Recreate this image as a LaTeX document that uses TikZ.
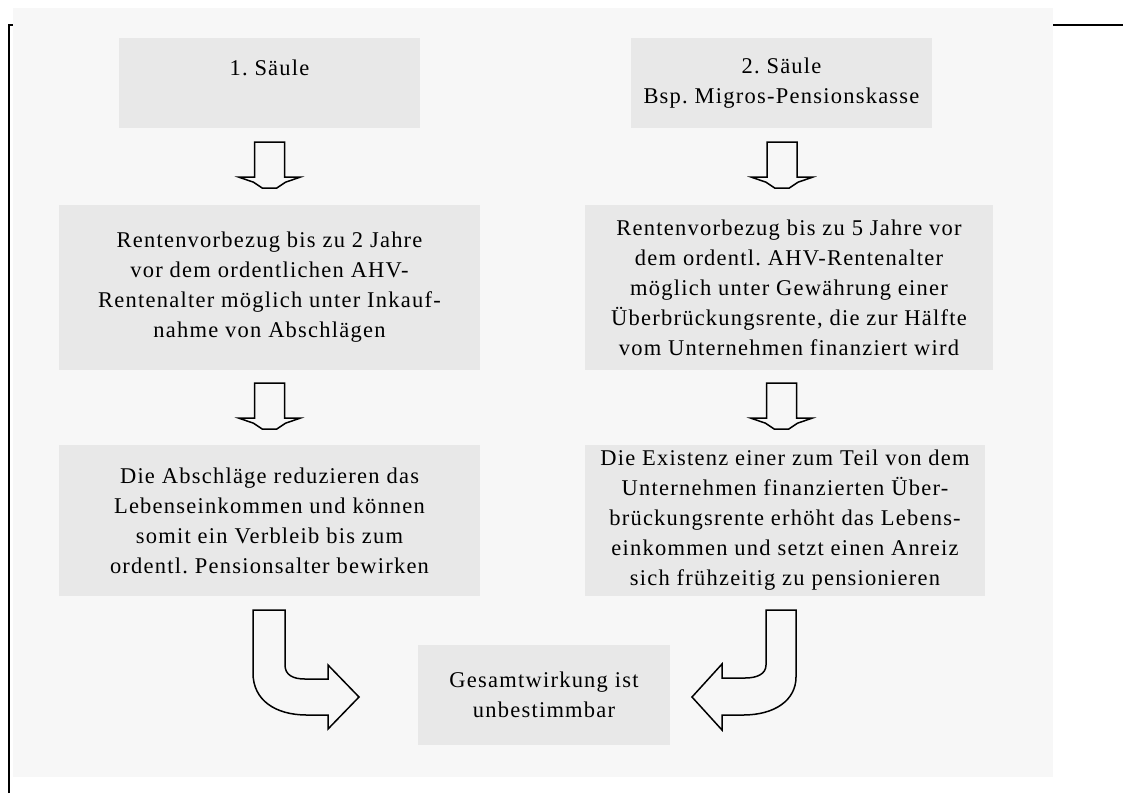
\documentclass[tikz,border=0pt]{standalone}
\usepackage{fontspec}
\setmainfont{Liberation Serif}[LetterSpace=5.5]
\usetikzlibrary{calc}
\definecolor{panelgray}{HTML}{F7F7F7}
\definecolor{boxgray}{HTML}{E8E8E8}
\tikzset{
  box/.style={fill=boxgray, inner sep=0pt, align=center, font=\fontsize{22.5}{30}\selectfont\frenchspacing},
  blockarrow/.style={draw=black, line width=1.5pt, fill=panelgray, line join=miter},
  dnarr/.pic={\path[blockarrow] (-15,0) -- (15,0) -- (15,35) -- (30.5,35) -- (16,40) -- (7,46) -- (-7,46) -- (-16,40) -- (-30.5,35) -- (-15,35) -- cycle;}
}
\begin{document}
\begin{tikzpicture}[x=1pt,y=-1pt]
\useasboundingbox (0,0) rectangle (1123,793);
\fill[panelgray] (13,8) rectangle (1053,777);
\draw[line width=2pt] (9,793) -- (9,25) -- (13,25);
\draw[line width=2pt] (1053,25) -- (1123,25);

\node[box, minimum width=301pt, minimum height=90pt] (a1) at (269.5,83) {1. Säule\\ \mbox{}};
\node[box, minimum width=301pt, minimum height=90pt] (b1) at (781.5,83) {2. Säule\\ Bsp. Migros-Pensionskasse};
\node[box, minimum width=421pt, minimum height=165pt] (a2) at (269.5,287.5) {Rentenvorbezug bis zu 2 Jahre\\ vor dem ordentlichen AHV-\\ Rentenalter möglich unter Inkauf-\\ nahme von Abschlägen};
\node[box, minimum width=408pt, minimum height=165pt] (b2) at (789,287.5) {Rentenvorbezug bis zu 5 Jahre vor\\ dem ordentl. AHV-Rentenalter\\ möglich unter Gewährung einer\\ Überbrückungsrente, die zur Hälfte\\ vom Unternehmen finanziert wird};
\node[box, minimum width=421pt, minimum height=151pt] (a3) at (269.5,520.5) {Die Abschläge reduzieren das\\ Lebenseinkommen und können\\ somit ein Verbleib bis zum\\ ordentl. Pensionsalter bewirken};
\node[box, minimum width=400pt, minimum height=151pt] (b3) at (785,520.5) {Die Existenz einer zum Teil von dem\\ Unternehmen finanzierten Über-\\ brückungsrente erhöht das Lebens-\\ einkommen und setzt einen Anreiz\\ sich frühzeitig zu pensionieren};
\node[box, minimum width=252pt, minimum height=100pt] (c) at (544,695) {Gesamtwirkung ist\\ unbestimmbar};

\pic at ($(a1.south)+(0,14)$) {dnarr};
\pic at ($(a2.south)+(0,13)$) {dnarr};
\pic at ($(b1.south)+(0.5,14)$) {dnarr};
\pic at ($(b2.south)+(-7.5,13)$) {dnarr};

\path[blockarrow] (253,610) -- (285,610) -- (285,665) .. controls (285,675) and (293,679) .. (305,679) -- (328,679) -- (328,665) -- (359,697) -- (328,729) -- (328,715) -- (307,715) .. controls (275,715) and (253,700) .. (253,673) -- cycle;
\path[blockarrow] (796,610) -- (766,610) -- (766,665) .. controls (766,674) and (757,678) .. (745,678) -- (722,678) -- (722,664) -- (692,697) -- (722,730) -- (722,715) -- (743,715) .. controls (775,715) and (796,700) .. (796,677) -- cycle;
\end{tikzpicture}
\end{document}
